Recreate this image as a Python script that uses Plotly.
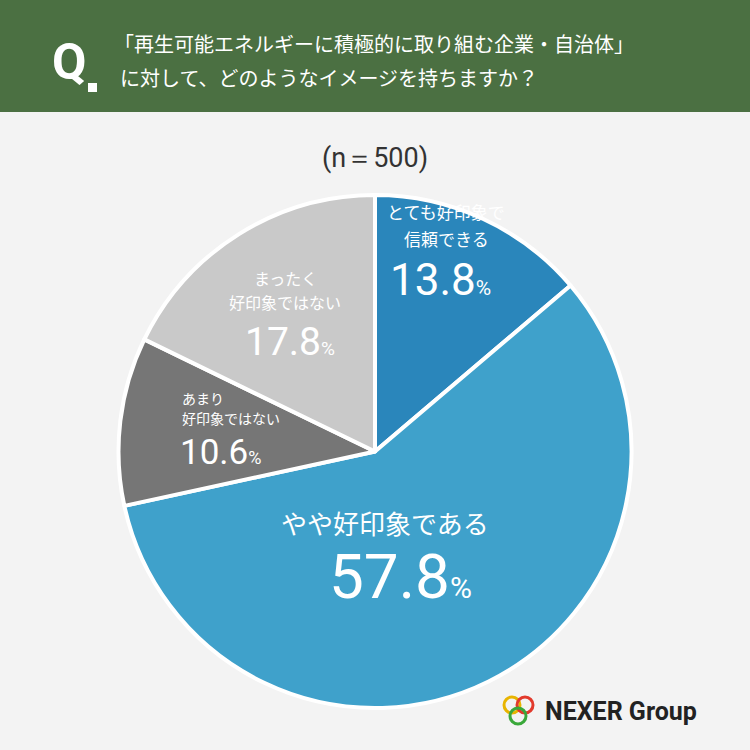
import plotly.graph_objects as go

labels = ["とても好印象で信頼できる", "やや好印象である", "あまり好印象ではない", "まったく好印象ではない"]
values = [13.8, 57.8, 10.6, 17.8]
colors = ["#2a86bb", "#3fa1cb", "#767676", "#c9c9c9"]

F = "Noto Sans CJK JP"
R = "Roboto"
fig = go.Figure(go.Pie(
    labels=labels, values=values, sort=False, direction="clockwise", rotation=0,
    marker=dict(colors=colors, line=dict(color="white", width=4)),
    textinfo="none", hoverinfo="label+percent", showlegend=False,
    domain=dict(x=[118/750, 632/750], y=[1-708/750, 1-195/750]),
))

def ann(x, y, t, size, color="white", fam=F):
    fig.add_annotation(x=x/750, y=1-y/750, xref="paper", yref="paper", text=t, showarrow=False,
                       yanchor="middle", font=dict(family=fam, size=size, color=color), align="center")

def pct(v, small):
    return f"{v}<span style='font-size:{small}px'>%</span>"

ann(446, 212, "とても好印象で", 17)
ann(446, 238, "信頼できる", 17)
ann(440, 280, pct(values[0], 21), 44, fam=R)
ann(385, 522, "やや好印象である", 26)
ann(400, 576, pct(values[1], 30), 62, fam=R)
ann(180, 398, "あまり", 14)
ann(180, 418, "好印象ではない", 14)
ann(178, 452, pct(values[2], 18), 35, fam=R)
ann(285, 278, "まったく", 16)
ann(285, 302, "好印象ではない", 16)
ann(290, 342, pct(values[3], 19), 39, fam=R)
ann(375, 158, "(n＝500)", 27, "#333333", fam=R)

fig.add_shape(type="rect", xref="paper", yref="paper", x0=0, x1=1, y0=1-112/750, y1=1,
              fillcolor="#4b7042", line_width=0, layer="below")
ann(50, 62, "<b>Q</b>", 50, fam=R)
fig.add_shape(type="rect", xref="paper", yref="paper", x0=88/750, x1=97/750, y0=1-92/750, y1=1-83/750,
              fillcolor="white", line_width=0)
fig.add_annotation(x=112/750, y=1-43/750, xref="paper", yref="paper", xanchor="left", yanchor="middle", showarrow=False,
                   text="「再生可能エネルギーに積極的に取り組む企業・自治体」", font=dict(family=F, size=20, color="white"))
fig.add_annotation(x=118/750, y=1-78/750, xref="paper", yref="paper", xanchor="left", yanchor="middle", showarrow=False,
                   text="に対して、どのようなイメージを持ちますか？", font=dict(family=F, size=20, color="white"))

for cx, cy, c in [(512, 705, "#e8b400"), (525, 705, "#e23a2c"), (518, 716, "#3aa83a")]:
    fig.add_shape(type="circle", xref="paper", yref="paper", x0=(cx-8)/750, x1=(cx+8)/750,
                  y0=1-(cy+8)/750, y1=1-(cy-8)/750, line=dict(color=c, width=3))
fig.add_annotation(x=543/750, y=1-711/750, xref="paper", yref="paper", xanchor="left", yanchor="middle", showarrow=False,
                   text="<b>NEXER Group</b>", font=dict(family=R, size=25, color="#222222"))

fig.update_layout(width=750, height=750, margin=dict(l=0, r=0, t=0, b=0),
                  paper_bgcolor="#f3f3f3", plot_bgcolor="#f3f3f3")
fig.write_html("out.html", post_script="document.body.style.margin='0';",
               config={"displayModeBar": False})
